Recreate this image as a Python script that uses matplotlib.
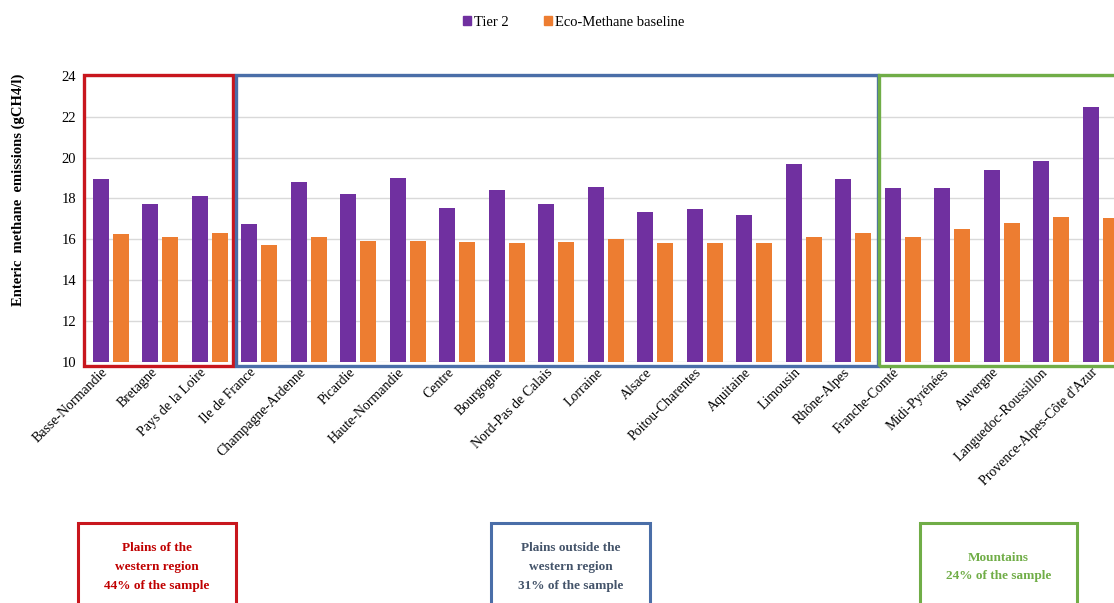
import matplotlib.pyplot as plt
from matplotlib.patches import Rectangle, Patch
from matplotlib.transforms import ScaledTranslation
import numpy as np

plt.rcParams['font.family'] = ['Liberation Serif', 'DejaVu Serif']

# Regions (x axis)
regions = ['Basse-Normandie', 'Bretagne', 'Pays de la Loire', 'Ile de France',
           'Champagne-Ardenne', 'Picardie', 'Haute-Normandie', 'Centre', 'Bourgogne',
           'Nord-Pas de Calais', 'Lorraine', 'Alsace', 'Poitou-Charentes', 'Aquitaine',
           'Limousin', 'Rhône-Alpes', 'Franche-Comté', 'Midi-Pyrénées', 'Auvergne',
           'Languedoc-Roussillon', "Provence-Alpes-Côte d'Azur"]

# Emissions (gCH4/l)
tier2 = [18.95, 17.75, 18.1, 16.75, 18.8, 18.2, 19.0, 17.55, 18.4, 17.75, 18.58,
         17.32, 17.5, 17.2, 19.7, 18.95, 18.52, 18.52, 19.4, 19.82, 22.47]
eco_methane = [16.27, 16.13, 16.3, 15.73, 16.13, 15.9, 15.9, 15.85, 15.8, 15.85, 16.03,
               15.8, 15.8, 15.8, 16.13, 16.33, 16.13, 16.5, 16.8, 17.08, 17.02]

# Region groups: (first index, last index, colour, caption)
groups = [
    (0, 2, '#c8161d', 'Plains of the\nwestern region\n44% of the sample'),
    (3, 15, '#4a6ea8', 'Plains outside the\nwestern region\n31% of the sample'),
    (16, 20, '#70ad47', 'Mountains\n24% of the sample'),
]
group_text_colors = ['#c00000', '#44546a', '#70ad47']

fig = plt.figure(figsize=(11.14, 6.03), dpi=100)
ax = fig.add_axes([0.0772, 0.4002, 0.9331, 0.4738])

x = np.arange(len(regions))
w = 0.32
ax.bar(x - 0.2, [v - 10 for v in tier2], w, bottom=10, color='#7030a0', zorder=3)
ax.bar(x + 0.2, [v - 10 for v in eco_methane], w, bottom=10, color='#ed7d31', zorder=3)

ax.set_xlim(-0.5, len(regions) - 0.5)
ax.set_ylim(10, 24)
ax.set_yticks(range(10, 25, 2))
ax.yaxis.grid(True, color='#d9d9d9', linewidth=1, zorder=0)
ax.tick_params(axis='y', length=0, pad=7, labelsize=10.5)
ax.tick_params(axis='x', length=0, pad=3)
for s in ax.spines.values():
    s.set_visible(False)

ax.set_xticks(x)
ax.set_xticklabels(regions, rotation=45, ha='right', rotation_mode='anchor', fontsize=10)
shift = ScaledTranslation(-7 / 72, 0, fig.dpi_scale_trans)
for lab in ax.get_xticklabels():
    lab.set_transform(lab.get_transform() + shift)

fig.text(18 / 1114, 1 - 190 / 603, 'Enteric  methane  emissions (gCH4/l)', rotation=90,
         ha='center', va='center', fontweight='bold', fontsize=10.5)

# Boxes around region groups
for first, last, col, _ in groups:
    left = first - 0.55 if first == 0 else first - 0.47
    rect = Rectangle((left, 9.78), last - first + 1 - 0.03 + (0.05 if first == 0 else 0), 14.25,
                     fill=False, edgecolor=col, linewidth=2.4, clip_on=False, zorder=4)
    ax.add_patch(rect)

# Caption boxes below
captions_x = [(78, 236), (491, 650), (920, 1077)]
for (x0, x1), (first, last, col, txt), tcol in zip(captions_x, groups, group_text_colors):
    fig.patches.append(Rectangle((x0 / 1114, -0.05), (x1 - x0) / 1114, 1 - 523 / 603 + 0.05,
                                 transform=fig.transFigure, fill=False, edgecolor=col,
                                 linewidth=2.2))
    fig.text((x0 + x1) / 2 / 1114, 1 - 567 / 603, txt, ha='center', va='center',
             color=tcol, fontsize=9.5, fontweight='bold', linespacing=1.75)

# Legend
handles = [Patch(color='#7030a0', label='Tier 2'),
           Patch(color='#ed7d31', label='Eco-Methane baseline')]
fig.legend(handles=handles, loc='center', bbox_to_anchor=(0.515, 0.9635), ncol=2,
           frameon=False, fontsize=10.5, handlelength=0.55, handleheight=0.55,
           handletextpad=0.2, columnspacing=2.4)

fig.savefig('out.png', dpi=100)
